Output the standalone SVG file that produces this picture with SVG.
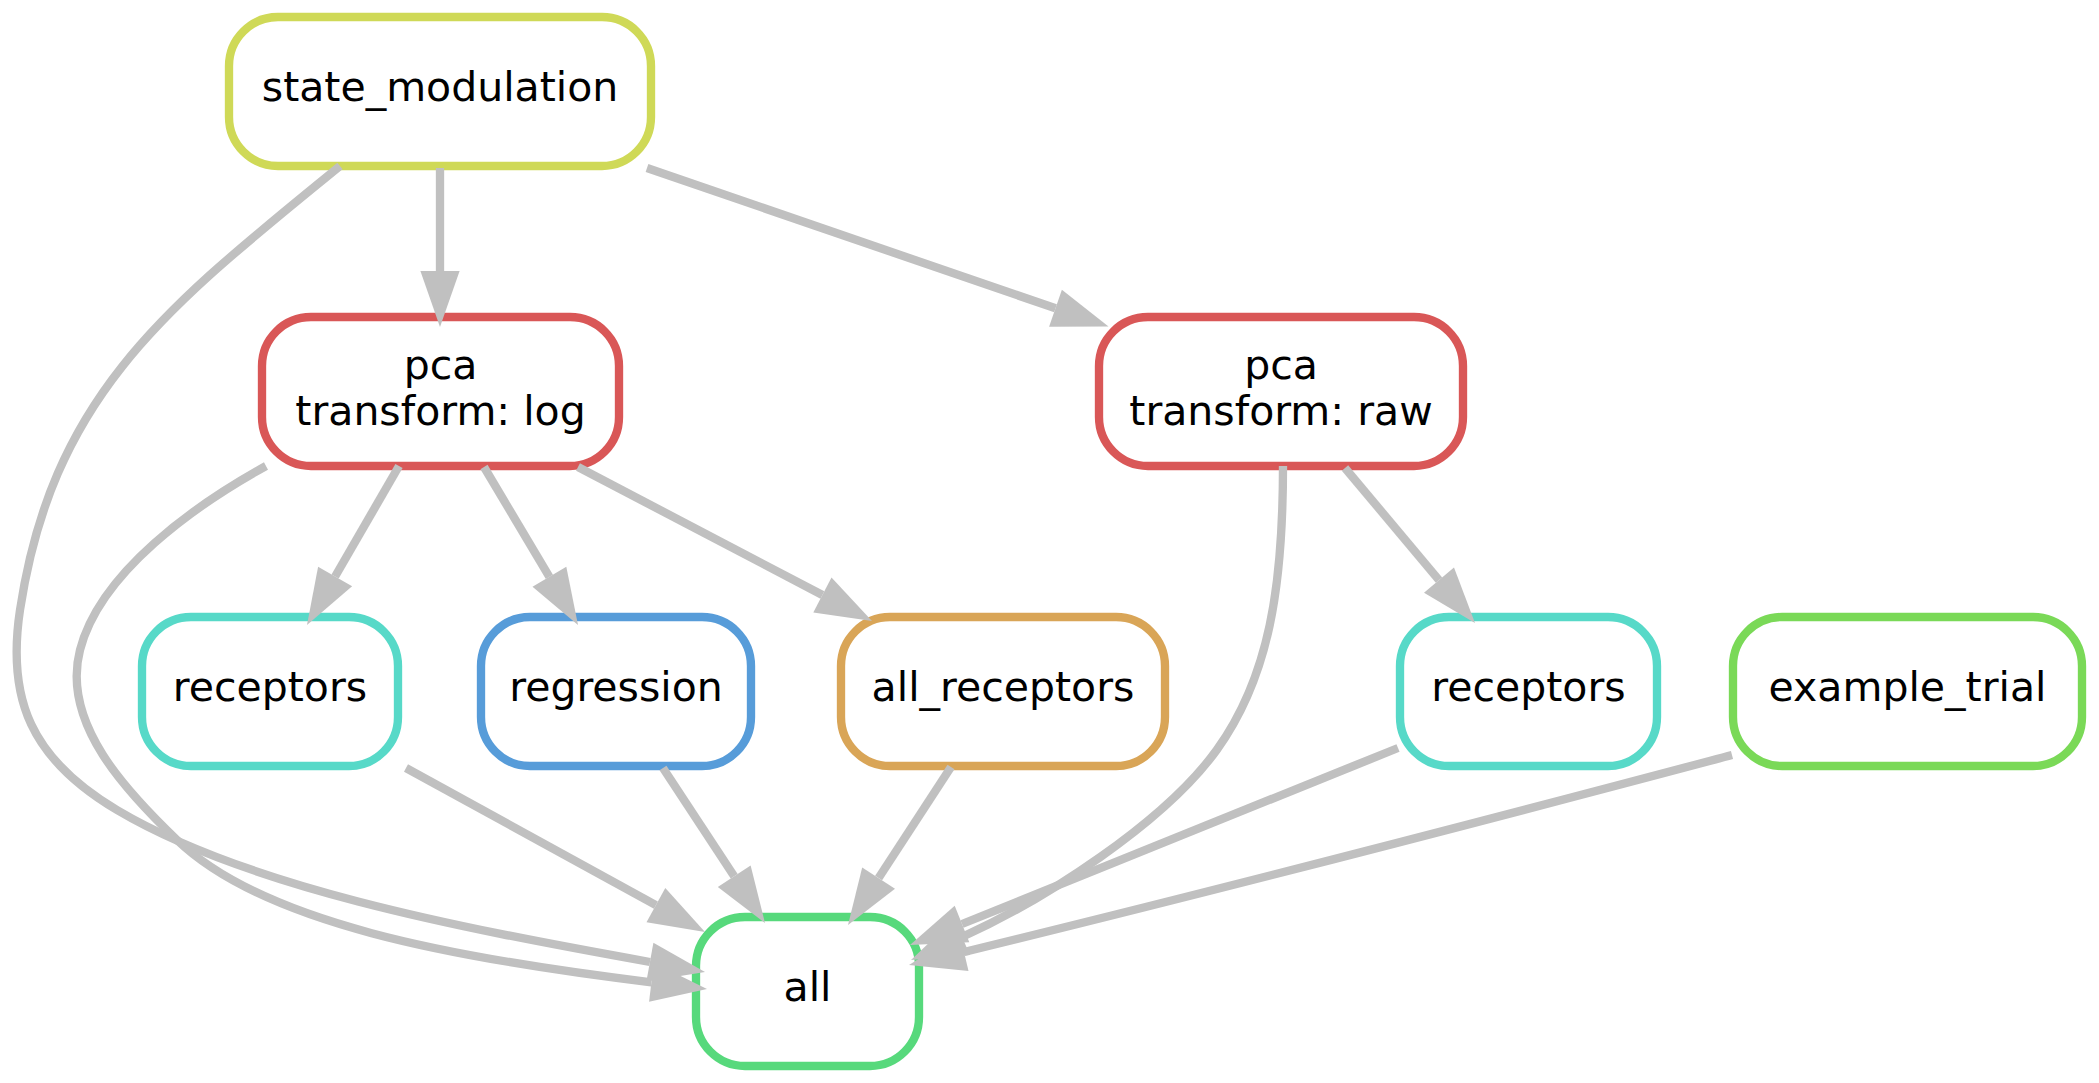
<svg xmlns="http://www.w3.org/2000/svg" width="2099" height="1083" viewBox="0 0 2099 1083">
<style>
.node rect{fill:#ffffff;stroke-width:8.33}
.node text{font-family:"DejaVu Sans","Liberation Sans",sans-serif;font-size:41px;fill:#000000;text-anchor:middle}
.edge path{fill:none;stroke:#c0c0c0;stroke-width:8.33}
.edge polygon{fill:#c0c0c0;stroke:none}
</style>
<rect width="2099" height="1083" fill="#ffffff"/>
<g id="nodes">
<g id="node-state_modulation" class="node"><rect x="229" y="17" width="422" height="149" rx="49" ry="49" stroke="#CFD957"/><text x="440" y="100.5">state_modulation</text></g>
<g id="node-pca_log" class="node"><rect x="262" y="317" width="357" height="149" rx="49" ry="49" stroke="#D95757"/><text x="440.5" y="379">pca</text><text x="440.5" y="425">transform: log</text></g>
<g id="node-pca_raw" class="node"><rect x="1099" y="317" width="364" height="149" rx="49" ry="49" stroke="#D95757"/><text x="1281" y="379">pca</text><text x="1281" y="425">transform: raw</text></g>
<g id="node-receptors_log" class="node"><rect x="142" y="617" width="256" height="149" rx="49" ry="49" stroke="#57D9C8"/><text x="270" y="700.5">receptors</text></g>
<g id="node-regression" class="node"><rect x="481" y="617" width="270" height="149" rx="49" ry="49" stroke="#579CD9"/><text x="616" y="700.5">regression</text></g>
<g id="node-all_receptors" class="node"><rect x="841" y="617" width="324" height="149" rx="49" ry="49" stroke="#D9A557"/><text x="1003" y="700.5">all_receptors</text></g>
<g id="node-receptors_raw" class="node"><rect x="1400" y="617" width="257" height="149" rx="49" ry="49" stroke="#57D9C8"/><text x="1528.5" y="700.5">receptors</text></g>
<g id="node-example_trial" class="node"><rect x="1733" y="617" width="349" height="149" rx="49" ry="49" stroke="#7AD957"/><text x="1907.5" y="700.5">example_trial</text></g>
<g id="node-all" class="node"><rect x="696" y="917" width="223" height="149" rx="49" ry="49" stroke="#57D97C"/><text x="807.5" y="1000.5">all</text></g>
</g>
<g id="connectors" class="edge">
<path d="M440,168 V271"/><polygon points="440,327 420.4,271 459.6,271"/>
<path d="M647,168 L1055.5,308.3"/><polygon points="1108.5,326.5 1049.1,326.8 1061.9,289.8"/>
<path d="M399,466 L335.1,576.5"/><polygon points="307,625 318.1,566.7 352.1,586.3"/>
<path d="M484,467 L549.4,576.8"/><polygon points="578,625 532.5,586.8 566.3,566.8"/>
<path d="M578,467 L822.4,595"/><polygon points="872,621 813.3,612.4 831.5,577.6"/>
<path d="M340,166 C170.6,304.6 53,392 20,610 C6.5,699 31,759 117,810 C246,886.5 453,926.6 650,962"/><polygon points="705,972 646.4,981.4 653.4,942.8"/>
<path d="M266,466 C196,504.7 100,572 80,650 C61,723 126.6,791.7 177,840 C263,923 452,958 651.4,982.3"/><polygon points="707,989 649.1,1001.8 653.7,962.8"/>
<path d="M406,768 L655.9,905.1"/><polygon points="705,932 646.5,922.3 665.3,887.9"/>
<path d="M663,768 L734.2,876.2"/><polygon points="765,923 717.8,887 750.6,865.4"/>
<path d="M951,767 L878.6,878.1"/><polygon points="848,925 862.2,867.4 895,888.8"/>
<path d="M1283,466 C1283,586 1269.4,677 1216.7,750 C1164,823 1044,900 962,937"/><polygon points="911,960 954,919.1 970,954.9"/>
<path d="M1345,468 L1439,580.1"/><polygon points="1475,623 1424,592.7 1454,567.5"/>
<path d="M1398,748 L962,924"/><polygon points="910,945 954.7,905.8 969.3,942.2"/>
<path d="M1732,755 C1600,790 1300,870 964,952"/><polygon points="909,965 959.5,932.9 968.5,971.1"/>
</g>
</svg>
